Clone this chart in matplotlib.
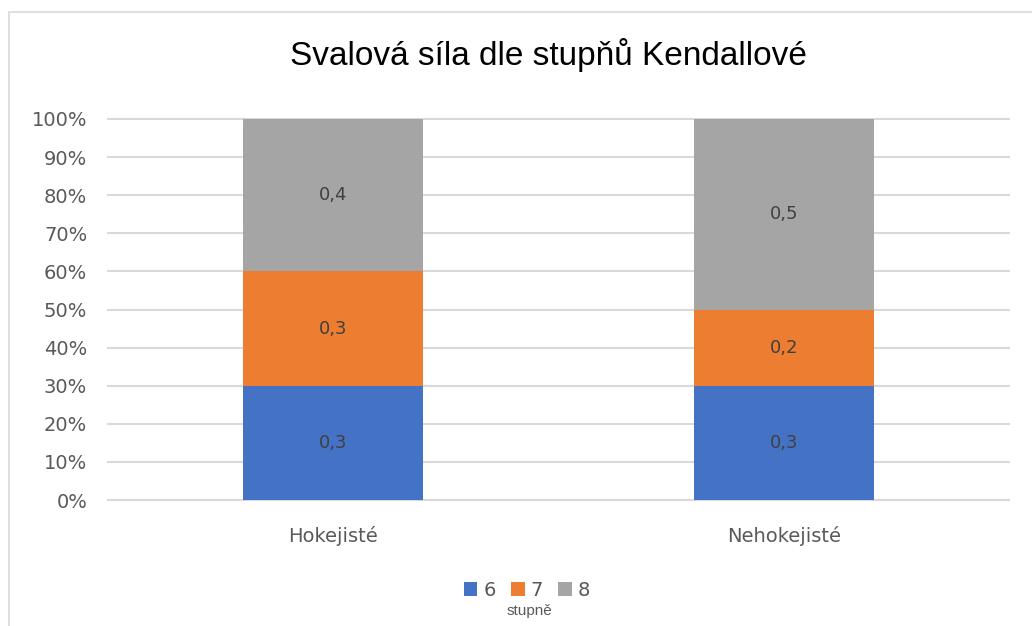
import matplotlib
matplotlib.use('Agg')
import matplotlib.pyplot as plt
from matplotlib.patches import Rectangle
from matplotlib.ticker import PercentFormatter

categories = ['Hokejisté', 'Nehokejisté']
series_names = ['6', '7', '8']
values_6 = [0.3, 0.3]
values_7 = [0.3, 0.2]
values_8 = [0.4, 0.5]
colors = ['#4472c4', '#ed7d31', '#a5a5a5']

fig = plt.figure(figsize=(10.32, 6.26), dpi=100)
ax = fig.add_axes([108 / 1032, 1 - 500 / 626, 901 / 1032, 381 / 626])

# border of the chart area
fig.patches.append(Rectangle((9 / 1032, -0.1), 1.2, 1 - 12 / 626 + 0.1, transform=fig.transFigure,
                             fill=False, edgecolor='#d9d9d9', lw=1.2, zorder=0))

x = list(range(len(categories)))
bottom = [0.0] * len(categories)
for name, vals, c in zip(series_names, [values_6, values_7, values_8], colors):
    ax.bar(x, vals, width=0.4, bottom=bottom, color=c, label=name, zorder=3)
    for xi, b, v in zip(x, bottom, vals):
        ax.text(xi, b + v / 2, ('%.1f' % v).replace('.', ','), ha='center', va='center',
                fontsize=13, color='#404040', zorder=4)
    bottom = [b + v for b, v in zip(bottom, vals)]

ax.set_xlim(-0.5, 1.5)
ax.set_ylim(0, 1)
ax.set_yticks([i / 10 for i in range(11)])
ax.yaxis.set_major_formatter(PercentFormatter(1.0, decimals=0))
ax.set_xticks(x)
ax.set_xticklabels(categories)
ax.grid(axis='y', color='#d9d9d9', lw=1.5, zorder=0)
for gl in ax.get_ygridlines():
    gl.set_clip_on(False)
for s in ax.spines.values():
    s.set_visible(False)
ax.tick_params(axis='both', length=0, labelsize=14, labelcolor='#595959')
ax.tick_params(axis='x', pad=19)
ax.tick_params(axis='y', pad=15)

fig.text(548 / 1032, 1 - 55 / 626, 'Svalová síla dle stupňů Kendallové', ha='center', va='center',
         fontsize=24, color='#000000', family=['Liberation Sans', 'DejaVu Sans'])

leg = fig.legend(loc='center', bbox_to_anchor=(527 / 1032, 1 - 590 / 626), ncol=3, frameon=False,
                 fontsize=14, handlelength=0.7, handleheight=0.7, handletextpad=0.3, columnspacing=0.8,
                 labelcolor='#595959')
fig.text(529 / 1032, 1 - 611 / 626, 'stupně', ha='center', va='center', fontsize=11, color='#595959',
         family=['Liberation Sans', 'DejaVu Sans'])

fig.savefig('out.png', dpi=100)
